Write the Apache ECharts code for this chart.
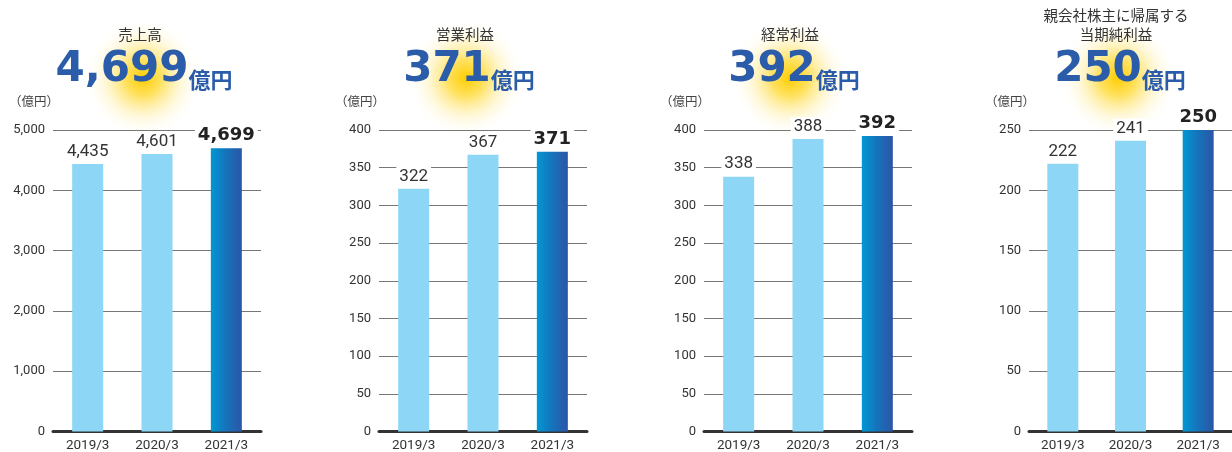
<!DOCTYPE html>
<html>
<head>
<meta charset="utf-8">
<script src="https://cdn.jsdelivr.net/npm/echarts@6/dist/echarts.min.js"></script>
<style>
html, body { margin: 0; padding: 0; background: #fff; }
#chart { width: 1232px; height: 452px; }
</style>
</head>
<body>
<div id="chart"></div>
<script>
const categories = ['2019/3', '2020/3', '2021/3']
const titles = ['売上高', '営業利益', '経常利益', '親会社株主に帰属する\n当期純利益']
const headline = ['4,699', '371', '392', '250']
const sales = [4435, 4601, 4699]
const operating = [322, 367, 371]
const ordinary = [338, 388, 392]
const netIncome = [222, 241, 250]
const yMax = [5000, 400, 400, 250]
const yStep = [1000, 50, 50, 50]

const seriesData = [sales, operating, ordinary, netIncome]
const gridLeft = [53, 379, 704, 1029]
const titleX = [140, 465, 790, 1116]
const glowX = [143, 466, 790, 1118]

const chart = echarts.init(document.getElementById('chart'))

const baseFont = 'Roboto, "Noto Sans CJK JP", sans-serif'
const lastBar = new echarts.graphic.LinearGradient(0, 0, 1, 0, [
	{ offset: 0, color: '#0098d4' },
	{ offset: 0.5, color: '#1672ba' },
	{ offset: 1, color: '#2b56a6' }
])

const grids = []
const xAxes = []
const yAxes = []
const series = []
const graphics = []

for (let i = 0; i < 4; i++) {
	grids.push({ left: gridLeft[i], width: 208, top: 130, bottom: 20 })
	xAxes.push({
		type: 'category',
		gridIndex: i,
		data: categories,
		axisLine: { lineStyle: { color: '#333', width: 3 } },
		axisTick: { show: false },
		axisLabel: { color: '#333', fontSize: 13.5, fontFamily: baseFont, margin: 7 }
	})
	yAxes.push({
		type: 'value',
		gridIndex: i,
		min: 0,
		max: yMax[i],
		interval: yStep[i],
		axisLine: { show: false },
		axisTick: { show: false },
		axisLabel: {
			color: '#333', fontSize: 13, fontFamily: baseFont, margin: 8,
			formatter: v => v.toLocaleString('en-US')
		},
		splitLine: { lineStyle: { color: '#777', width: 1.2 } }
	})
	series.push({
		type: 'bar',
		xAxisIndex: i,
		yAxisIndex: i,
		barWidth: 31,
		z: 3,
		data: seriesData[i].map((v, j) => {
			if (j === 2) {
				return {
					value: v,
					itemStyle: { color: lastBar },
					label: { fontWeight: 'bold', fontSize: 18, color: '#222', fontFamily: '"DejaVu Sans", sans-serif' }
				}
			}
			return v
		}),
		itemStyle: { color: '#8dd6f5' },
		label: {
			show: true,
			position: 'top',
			distance: 4,
			color: '#333',
			fontSize: 17,
			fontFamily: baseFont,
			backgroundColor: '#fff',
			padding: [1, 3, 0, 3],
			formatter: p => p.value.toLocaleString('en-US')
		}
	})

	// glow behind the headline figure
	graphics.push({
		type: 'circle',
		shape: { cx: glowX[i], cy: 78, r: 60 },
		style: {
			fill: new echarts.graphic.RadialGradient(0.5, 0.5, 0.5, [
				{ offset: 0, color: 'rgba(255,205,0,1)' },
				{ offset: 0.3, color: 'rgba(255,215,40,0.75)' },
				{ offset: 0.65, color: 'rgba(255,235,150,0.35)' },
				{ offset: 1, color: 'rgba(255,255,255,0)' }
			])
		},
		z: 0
	})
	graphics.push({
		type: 'text',
		x: titleX[i],
		y: i === 3 ? 6 : 25,
		z: 2,
		style: {
			text: titles[i],
			align: 'center',
			fill: '#333',
			font: '14.5px "Noto Sans CJK JP", sans-serif',
			lineHeight: 19
		}
	})
	graphics.push({
		type: 'text',
		x: titleX[i] + 4,
		y: 69,
		z: 2,
		style: {
			text: '{n|' + headline[i] + '}{u|億円}',
			align: 'center',
			verticalAlign: 'middle',
			rich: {
				n: { fill: '#2a5caa', font: 'bold 42px "DejaVu Sans", sans-serif', verticalAlign: 'bottom', lineHeight: 44 },
				u: { fill: '#2a5caa', font: 'bold 22px "Noto Sans CJK JP", sans-serif', verticalAlign: 'bottom', lineHeight: 30 }
			}
		}
	})
	graphics.push({
		type: 'text',
		x: gridLeft[i] - 44,
		y: 95,
		z: 2,
		style: {
			text: '（億円）',
			fill: '#444',
			font: '12.5px "Noto Sans CJK JP", sans-serif'
		}
	})
}

chart.setOption({
	animation: false,
	grid: grids,
	xAxis: xAxes,
	yAxis: yAxes,
	series: series,
	graphic: graphics
})
</script>
</body>
</html>
